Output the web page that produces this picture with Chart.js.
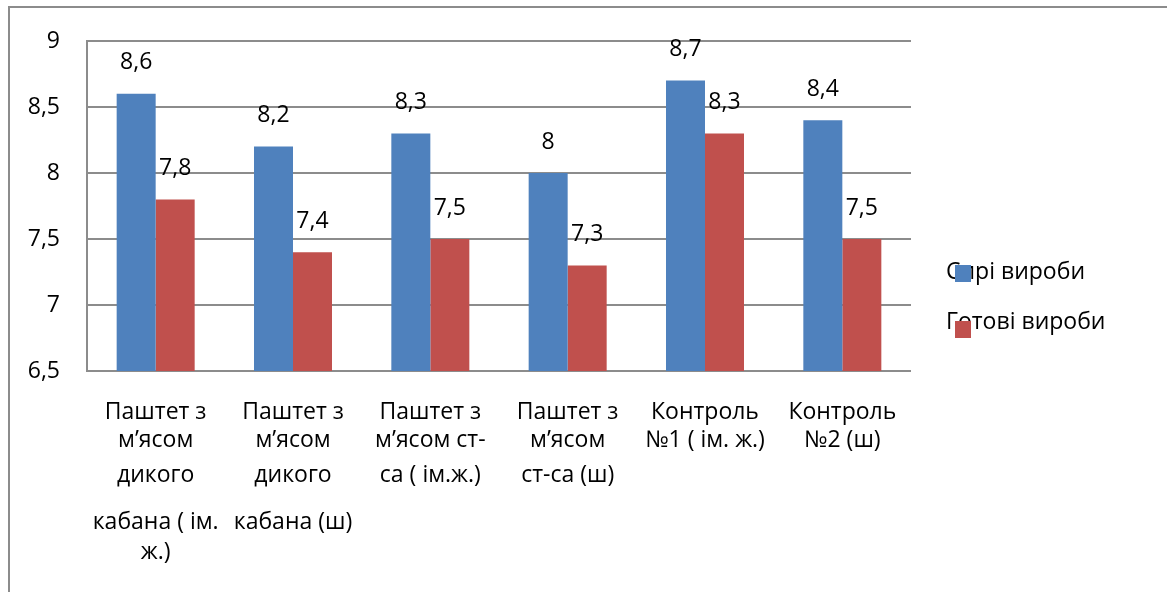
<!DOCTYPE html>
<html>
<head>
<meta charset="utf-8">
<script src="https://cdn.jsdelivr.net/npm/chart.js@4"></script>
<style>
  html, body { margin: 0; padding: 0; background: #fff; }
  #wrap { width: 1167px; height: 592px; position: relative; }
</style>
</head>
<body>
<div id="wrap"><canvas id="c"></canvas></div>
<script>
// Категорії (рядки підпису осі X)
const categories = [
  ["Паштет з", "м’ясом", "дикого", "кабана ( ім.", "ж.)"],
  ["Паштет з", "м’ясом", "дикого", "кабана (ш)"],
  ["Паштет з", "м’ясом ст-", "са ( ім.ж.)"],
  ["Паштет з", "м’ясом", "ст-са (ш)"],
  ["Контроль", "№1 ( ім. ж.)"],
  ["Контроль", "№2 (ш)"]
];
const seriesNames = ["Сирі вироби", "Готові вироби"];
const rawValues = [8.6, 8.2, 8.3, 8.0, 8.7, 8.4];
const readyValues = [7.8, 7.4, 7.5, 7.3, 8.3, 7.5];
const yTicks = [6.5, 7, 7.5, 8, 8.5, 9];

const BLUE = "#4F81BD";
const RED = "#C0504D";
const GRID = "#8c8c8c";
const FONT = "'Open Sans', 'Noto Sans', sans-serif";
const FSIZE = 23;

const fmt = v => String(v).replace(".", ",");

// Рамка навколо всієї діаграми
const frame = {
  id: "frame",
  beforeDraw(chart) {
    const ctx = chart.ctx;
    ctx.save();
    ctx.strokeStyle = GRID;
    ctx.lineWidth = 2;
    ctx.strokeRect(9, 7, 2000, 2000);
    ctx.restore();
  }
};

// Значення над стовпчиками
const valueLabels = {
  id: "valueLabels",
  afterDatasetsDraw(chart) {
    const ctx = chart.ctx;
    ctx.save();
    ctx.font = FSIZE + "px " + FONT;
    ctx.fillStyle = "#000";
    ctx.textAlign = "center";
    ctx.textBaseline = "middle";
    chart.data.datasets.forEach((ds, di) => {
      chart.getDatasetMeta(di).data.forEach((bar, i) => {
        ctx.fillText(fmt(ds.data[i]), bar.x, bar.y - 31);
      });
    });
    ctx.restore();
  }
};

// Підписи категорій під віссю X
const categoryLabels = {
  id: "categoryLabels",
  afterDraw(chart) {
    const ctx = chart.ctx;
    const xs = chart.scales.x;
    const base = chart.chartArea.bottom;
    const lineOffsets = [41, 69, 104, 151, 181];
    ctx.save();
    ctx.font = FSIZE + "px " + FONT;
    ctx.fillStyle = "#000";
    ctx.textAlign = "center";
    ctx.textBaseline = "middle";
    chart.data.labels.forEach((lines, i) => {
      const x = xs.getPixelForValue(i);
      lines.forEach((t, k) => ctx.fillText(t, x, base + lineOffsets[k]));
    });
    ctx.restore();
  }
};

// Легенда праворуч
const sideLegend = {
  id: "sideLegend",
  afterDraw(chart) {
    const ctx = chart.ctx;
    const rows = [272, 322];
    ctx.save();
    ctx.font = FSIZE + "px " + FONT;
    ctx.textAlign = "left";
    ctx.textBaseline = "middle";
    chart.data.datasets.forEach((ds, i) => {
      ctx.fillStyle = "#000";
      ctx.fillText(ds.label, 946, rows[i]);
    });
    chart.data.datasets.forEach((ds, i) => {
      ctx.fillStyle = ds.backgroundColor;
      ctx.fillRect(955, rows[i] - 7 + i * 6, 16, 17);
    });
    ctx.restore();
  }
};

new Chart(document.getElementById("c"), {
  type: "bar",
  data: {
    labels: categories,
    datasets: [
      { label: seriesNames[0], data: rawValues, backgroundColor: BLUE },
      { label: seriesNames[1], data: readyValues, backgroundColor: RED }
    ]
  },
  options: {
    responsive: true,
    maintainAspectRatio: false,
    animation: false,
    layout: { padding: { left: 0, top: 41, right: 256, bottom: 0 } },
    datasets: { bar: { categoryPercentage: 0.568, barPercentage: 1.0 } },
    plugins: {
      legend: { display: false },
      tooltip: { enabled: false }
    },
    scales: {
      x: {
        grid: { display: false },
        border: { display: false },
        ticks: { display: false },
        afterFit(s) { s.height = 221; }
      },
      y: {
        min: yTicks[0],
        max: yTicks[yTicks.length - 1],
        afterBuildTicks(s) { s.ticks = yTicks.map(v => ({ value: v })); },
        grid: { color: GRID, lineWidth: 2, drawTicks: false },
        border: { display: true, color: GRID, width: 2 },
        ticks: {
          padding: 27,
          color: "#000",
          font: { family: FONT, size: FSIZE },
          callback: v => fmt(v)
        },
        afterFit(s) { s.width = 87; }
      }
    }
  },
  plugins: [frame, valueLabels, categoryLabels, sideLegend]
});
</script>
</body>
</html>
